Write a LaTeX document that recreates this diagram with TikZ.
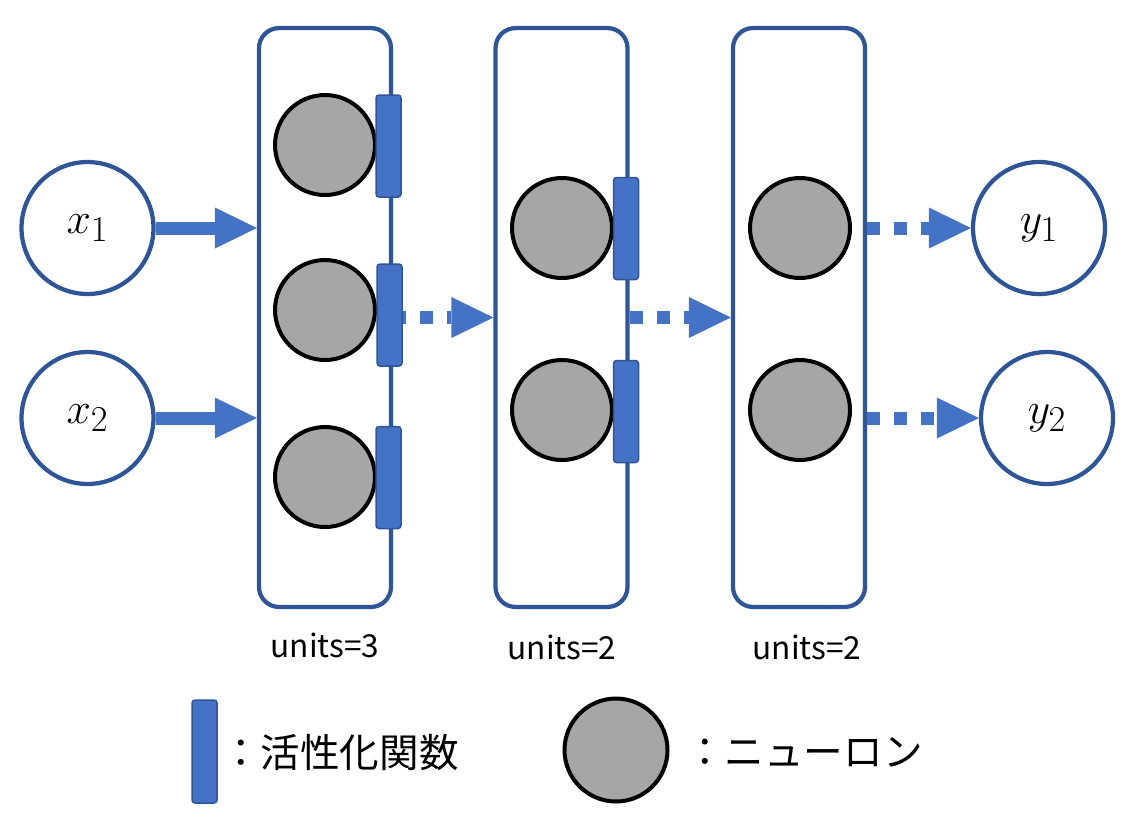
\documentclass[tikz,border=0pt]{standalone}
\usepackage{fontspec}
\newfontfamily\jp{Noto Sans CJK JP}
\usetikzlibrary{arrows.meta}
\definecolor{boxblue}{HTML}{2F5597}
\definecolor{fillblue}{HTML}{4472C4}
\definecolor{neurongray}{HTML}{A6A6A6}
\begin{document}
\begin{tikzpicture}[x=0.02cm,y=-0.02cm,
 layer/.style={draw=boxblue,line width=0.085cm,rounded corners=0.4cm,minimum width=2.64cm,minimum height=11.58cm,inner sep=0},
 neuron/.style={circle,draw=black,fill=neurongray,line width=0.08cm,minimum size=2cm,inner sep=0},
 actbar/.style={draw=boxblue,fill=fillblue,line width=0.03cm,rounded corners=0.06cm,minimum width=0.5cm,minimum height=2.04cm,inner sep=0},
 io/.style={circle,draw=boxblue,fill=white,line width=0.085cm,minimum size=2.64cm,inner sep=0,font=\fontsize{28}{32}\selectfont},
 solidarrow/.style={draw=fillblue,line width=0.26cm,-{Triangle[length=0.84cm,width=0.82cm,line width=0pt]}},
 dotarrow/.style={solidarrow,dash pattern=on 0.26cm off 0.28cm},
 unitlabel/.style={font=\jp\fontsize{18}{20}\selectfont,inner sep=0},
 legendtext/.style={font=\jp\fontsize{22.5}{26}\selectfont,anchor=west,inner sep=0}]
\useasboundingbox (0,0) rectangle (1138,826);
% layers
\node[layer] (box1) at (325,317.5) {};
\node[layer] (box2) at (561.5,317.5) {};
\node[layer] (box3) at (799,317.5) {};
% inputs / outputs
\node[io] (x1) at (87.5,228) {$x_1$};
\node[io] (x2) at (87.5,418) {$x_2$};
\node[io] (y1) at (1039,228) {$y_1$};
\node[io] (y2) at (1047,418) {$y_2$};
% arrows
\draw[solidarrow] (x1) -- (x1 -| box1.west);
\draw[solidarrow] (x2) -- (x2 -| box1.west);
\draw[dotarrow] (box1.east) -- (box2.west);
\draw[dotarrow] (box2.east) -- (box3.west);
\draw[dotarrow] (box3.east |- y1) -- (y1);
\draw[dotarrow] (box3.east |- y2) -- (y2);
% neurons
\node[neuron] (n11) at (325,145) {};
\node[neuron] (n12) at (325,310) {};
\node[neuron] (n13) at (325,477) {};
\node[neuron] (n21) at (562,228) {};
\node[neuron] (n22) at (562,410) {};
\node[neuron] (n31) at (800,228) {};
\node[neuron] (n32) at (800,410) {};
% activation bars
\node[actbar] (a11) at (388.5,146) {};
\node[actbar] (a12) at (389.5,315) {};
\node[actbar] (a13) at (388.5,477.5) {};
\node[actbar] (a21) at (626,228.5) {};
\node[actbar] (a22) at (626,411.5) {};
% unit labels
\node[unitlabel] (u1) at (325,645) {units=3};
\node[unitlabel] (u2) at (562,647) {units=2};
\node[unitlabel] (u3) at (807,647) {units=2};
% legend
\node[actbar,minimum height=2.06cm] (legbar) at (204.5,751.5) {};
\node[legendtext] (legact) at (221,752) {：活性化関数};
\node[neuron,minimum size=2.06cm] (legneuron) at (616,750) {};
\node[legendtext] (legneu) at (685,752) {：ニューロン};
\end{tikzpicture}
\end{document}
